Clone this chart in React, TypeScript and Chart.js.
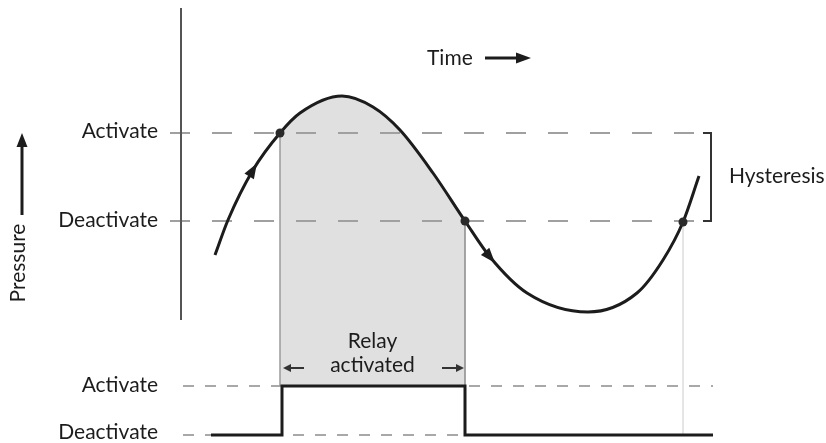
import React, { useEffect, useRef } from "react";
import { Chart, registerables } from "chart.js";
Chart.register(...registerables);

// Time (x) and pressure (y) values
const curveTime = [215, 228, 253, 280, 300, 342, 373, 400, 433, 465, 490, 527, 588, 637, 663, 683, 699];
const curvePressure = [188, 223, 273, 310, 330, 347, 336, 313, 270, 222, 186, 150, 131, 150, 183, 221, 267];
const activateLevel = 310;
const deactivateLevel = 222;
const crossingTime = [280, 465, 683];
const crossingPressure = [310, 222, 221];
const relayTime = [211, 282, 282, 465, 465, 713];
const relayState = [8, 8, 57, 57, 8, 8];
const relayHigh = 57;
const relayLow = 8;
const relayStart = 280;
const relayEnd = 465;
const thresholdSpan = [170, 694];
const relaySpan = [183, 713];
const axisTime = 181;
const axisSpan = [123, 435];
const bracketTime = [703, 711, 711, 703];
const bracketPressure = [310, 310, 222, 222];
const arrowIdx = [2, 10];
const levelLabels = ["Activate", "Deactivate"];

const pts = (xs: number[], ys: number[]) => xs.map((x, i) => ({ x, y: ys[i] }));

const annot = {
  id: "annot",
  afterDatasetsDraw(chart: any) {
    const { ctx, scales } = chart;
    const X = (t: number) => scales.x.getPixelForValue(t);
    const Y = (p: number) => scales.y.getPixelForValue(p);
    ctx.save();
    const ink = "#1c1c1c";
    ctx.fillStyle = ink;
    ctx.strokeStyle = ink;
    ctx.font = "21px Lato";
    ctx.textBaseline = "alphabetic";
    ctx.textAlign = "right";
    ctx.fillText(levelLabels[0], X(158), Y(activateLevel) + 5);
    ctx.fillText(levelLabels[1], X(158), Y(deactivateLevel) + 6);
    ctx.fillText(levelLabels[0], X(158), Y(relayHigh) + 6);
    ctx.fillText(levelLabels[1], X(158), Y(relayLow) + 4);
    ctx.textAlign = "left";
    ctx.fillText("Time", X(427), 65);
    ctx.fillText("Hysteresis", X(729), 183);
    ctx.textAlign = "center";
    ctx.fillText("Relay", X((relayStart + relayEnd) / 2), 348);
    ctx.fillText("activated", X((relayStart + relayEnd) / 2), 372);
    // Pressure rotated
    ctx.save();
    ctx.translate(25, 263);
    ctx.rotate(-Math.PI / 2);
    ctx.textAlign = "center";
    ctx.fillText("Pressure", 0, 0);
    ctx.restore();

    const arrow = (x1: number, y1: number, x2: number, y2: number, lw: number, hl: number, hw: number, col: string) => {
      const a = Math.atan2(y2 - y1, x2 - x1);
      const bx = x2 - Math.cos(a) * hl;
      const by = y2 - Math.sin(a) * hl;
      ctx.strokeStyle = col;
      ctx.fillStyle = col;
      ctx.lineWidth = lw;
      ctx.lineCap = "butt";
      ctx.beginPath();
      ctx.moveTo(x1, y1);
      ctx.lineTo(bx + Math.cos(a) * 1, by + Math.sin(a) * 1);
      ctx.stroke();
      ctx.beginPath();
      ctx.moveTo(x2, y2);
      ctx.lineTo(bx - Math.sin(a) * hw, by + Math.cos(a) * hw);
      ctx.lineTo(bx + Math.sin(a) * hw, by - Math.cos(a) * hw);
      ctx.closePath();
      ctx.fill();
    };
    // Time arrow
    arrow(485, 58, 531, 58, 3, 15, 5.5, ink);
    // Pressure arrow
    arrow(22, 215, 22, 133, 3, 14, 5.5, ink);
    // Relay span arrows
    const ry = 368;
    arrow(304, ry, X(relayStart) + 3, ry, 2, 8, 4, "#333");
    arrow(442, ry, X(relayEnd) - 1, ry, 2, 8, 4, "#333");
    // Curve direction arrowheads
    for (const i of arrowIdx) {
      const px = X(curveTime[i]);
      const py = Y(curvePressure[i]);
      const dx = X(curveTime[i + 1]) - X(curveTime[i - 1]);
      const dy = Y(curvePressure[i + 1]) - Y(curvePressure[i - 1]);
      const a = Math.atan2(dy, dx);
      const hl = 15, hw = 5.5;
      const tx = px + Math.cos(a) * hl / 2, ty = py + Math.sin(a) * hl / 2;
      const bx = px - Math.cos(a) * hl / 2, by = py - Math.sin(a) * hl / 2;
      ctx.fillStyle = ink;
      ctx.beginPath();
      ctx.moveTo(tx, ty);
      ctx.lineTo(bx - Math.sin(a) * hw, by + Math.cos(a) * hw);
      ctx.lineTo(bx + Math.sin(a) * hw, by - Math.cos(a) * hw);
      ctx.closePath();
      ctx.fill();
    }
    ctx.restore();
  },
};

export default function App() {
  const ref = useRef<HTMLCanvasElement>(null);
  useEffect(() => {
    if (!ref.current) return;
    const seg = (x: number[], y: number[], color: string, width: number, dash: number[], order: number) => ({
      data: pts(x, y),
      borderColor: color,
      borderWidth: width,
      borderDash: dash,
      pointRadius: 0,
      fill: false,
      tension: 0,
      order,
    });
    const chart = new Chart(ref.current, {
      type: "line",
      data: {
        datasets: [
          {
            data: pts(curveTime, curvePressure),
            borderColor: "#1c1c1c",
            borderWidth: 3,
            pointRadius: 0,
            cubicInterpolationMode: "monotone",
            tension: 0.4,
            fill: { value: relayHigh },
            backgroundColor: (c: any) => {
              const ch = c.chart;
              const area = ch.chartArea;
              if (!area) return "rgba(0,0,0,0)";
              const g = ch.ctx.createLinearGradient(area.left, 0, area.right, 0);
              const w = area.right - area.left;
              const a = (ch.scales.x.getPixelForValue(relayStart) - area.left) / w;
              const b = (ch.scales.x.getPixelForValue(relayEnd) - area.left) / w;
              g.addColorStop(0, "rgba(224,224,224,0)");
              g.addColorStop(a, "rgba(224,224,224,0)");
              g.addColorStop(a, "#e0e0e0");
              g.addColorStop(b, "#e0e0e0");
              g.addColorStop(b, "rgba(224,224,224,0)");
              g.addColorStop(1, "rgba(224,224,224,0)");
              return g;
            },
            order: 1,
          },
          {
            data: pts(crossingTime, crossingPressure),
            showLine: false,
            pointRadius: 4.5,
            pointBackgroundColor: "#2a2a2a",
            pointBorderWidth: 0,
            order: 0,
          },
          seg(relayTime, relayState, "#1c1c1c", 3, [], 2),
          seg(thresholdSpan, [activateLevel, activateLevel], "#a0a0a0", 2, [20, 22], 6),
          seg(thresholdSpan, [deactivateLevel, deactivateLevel], "#a0a0a0", 2, [20, 22], 6),
          seg(relaySpan, [relayHigh, relayHigh], "#a8a8a8", 2, [11, 11], 6),
          seg(relaySpan, [relayLow, relayLow], "#a8a8a8", 2, [11, 11], 6),
          seg([axisTime, axisTime], axisSpan, "#555555", 2, [], 5),
          seg([relayStart, relayStart], [activateLevel, relayHigh], "#9a9a9a", 1.5, [], 5),
          seg([relayEnd, relayEnd], [deactivateLevel, relayHigh], "#8a8a8a", 1.5, [], 5),
          seg([683, 683], [221, relayLow], "#dddddd", 1.5, [], 5),
          seg(bracketTime, bracketPressure, "#333333", 2, [], 4),
        ] as any,
      },
      options: {
        responsive: false,
        animation: false,
        layout: { padding: 0, autoPadding: false },
        scales: {
          x: { type: "linear", min: 0, max: 826, display: false },
          y: { type: "linear", min: 0, max: 443, display: false },
        },
        plugins: {
          legend: { display: false },
          tooltip: { enabled: false },
          filler: { drawTime: "beforeDatasetsDraw" },
        },
        events: [],
      } as any,
      plugins: [annot],
    });
    return () => chart.destroy();
  }, []);
  return (
    <div style={{ position: "fixed", left: 0, top: 0, width: 826, height: 443, background: "#fff" }}>
      <canvas ref={ref} width={826} height={443} style={{ display: "block" }} />
    </div>
  );
}
